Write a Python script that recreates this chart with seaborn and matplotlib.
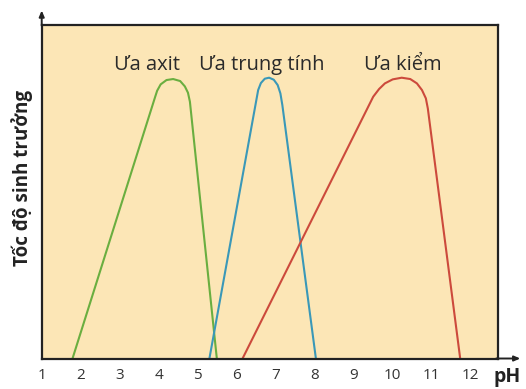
import matplotlib
matplotlib.use("Agg")
import matplotlib.pyplot as plt
import seaborn as sns
import pandas as pd

# ---- data ----
acid_ph = [1.79, 3.91, 3.96, 4.05, 4.20, 4.37, 4.55, 4.67, 4.75, 4.80, 5.49]
acid_rate = [0.0, 0.785, 0.803, 0.822, 0.835, 0.838, 0.832, 0.816, 0.797, 0.770, 0.0]

neutral_ph = [5.30, 6.55, 6.62, 6.72, 6.83, 6.95, 7.05, 7.12, 7.17, 8.03]
neutral_rate = [0.0, 0.805, 0.826, 0.839, 0.842, 0.836, 0.820, 0.795, 0.760, 0.0]

alk_ph = [6.15, 9.50, 9.65, 9.80, 10.00, 10.23, 10.45, 10.62, 10.75, 10.85, 10.90, 11.73]
alk_rate = [0.0, 0.785, 0.808, 0.825, 0.837, 0.842, 0.838, 0.825, 0.805, 0.780, 0.750, 0.0]

series_names = ["Ưa axit", "Ưa trung tính", "Ưa kiểm"]
x_ticks = [1, 2, 3, 4, 5, 6, 7, 8, 9, 10, 11, 12]
y_label = "Tốc độ sinh trưởng"
x_label = "pH"

colors = ["#6aae40", "#3a98b8", "#cc4a3c"]

df = pd.concat([
    pd.DataFrame({"pH": acid_ph, "rate": acid_rate, "group": series_names[0]}),
    pd.DataFrame({"pH": neutral_ph, "rate": neutral_rate, "group": series_names[1]}),
    pd.DataFrame({"pH": alk_ph, "rate": alk_rate, "group": series_names[2]}),
], ignore_index=True)

sns.set_style("white")
plt.rcParams["font.family"] = ["Open Sans", "DejaVu Sans"]

fig = plt.figure(figsize=(5.26, 3.89), dpi=100)
ax = fig.add_axes([0.0793, 0.0784, 0.8675, 0.8573])
ax.set_facecolor("#fce6b6")

sns.lineplot(data=df, x="pH", y="rate", hue="group", palette=colors,
             sort=False, estimator=None, units="group", ax=ax, linewidth=1.5,
             legend=False, solid_capstyle="round", solid_joinstyle="round")

ax.set_xlim(1, 12.70)
ax.set_ylim(0, 1)
ax.set_xticks(x_ticks)
ax.set_xticklabels([str(t) for t in x_ticks], fontsize=11, color="#333333")
ax.set_yticks([])
ax.tick_params(axis="x", direction="in", length=7, width=1.1, color="#222222", pad=7)
ax.set_xlabel("")
ax.set_ylabel(y_label, fontsize=13.5, fontweight="bold", color="#222222")
ax.yaxis.set_label_coords(-0.02, 0.54)

for s in ax.spines.values():
    s.set_visible(True)
    s.set_color("#222222")
    s.set_linewidth(1.6)

# axis arrows
ax.annotate("", xy=(0, 1.052), xytext=(0, 0.99), xycoords="axes fraction",
            arrowprops=dict(arrowstyle="-|>,head_length=0.35,head_width=0.15", color="#222222", lw=1.4),
            annotation_clip=False)
ax.annotate("", xy=(1.055, 0), xytext=(0.99, 0), xycoords="axes fraction",
            arrowprops=dict(arrowstyle="-|>,head_length=0.35,head_width=0.15", color="#222222", lw=1.4),
            annotation_clip=False)

ax.text(1.019, -0.055, x_label, transform=ax.transAxes, fontsize=14, fontweight="bold",
        color="#222222", ha="center", va="center")

label_pos = [(3.71, 0.88), (6.65, 0.88), (10.26, 0.88)]
for name, (lx, ly) in zip(series_names, label_pos):
    ax.text(lx, ly, name, fontsize=14.5, color="#2a2a2a", ha="center", va="center")

fig.savefig("out.png", dpi=100)
